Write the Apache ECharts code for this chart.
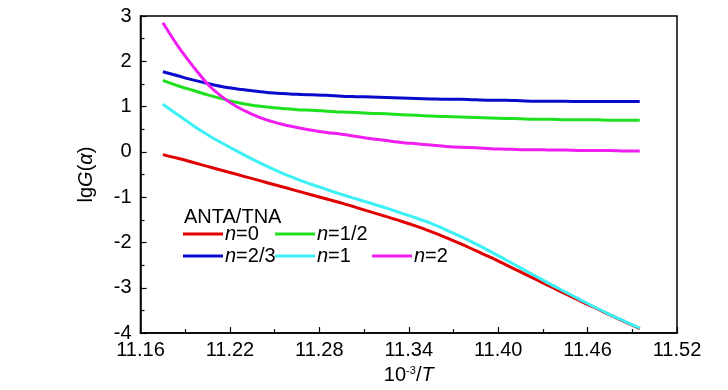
<!DOCTYPE html>
<html>
<head>
<meta charset="utf-8">
<script src="https://cdn.jsdelivr.net/npm/echarts@6/dist/echarts.min.js"></script>
<style>html,body{margin:0;padding:0;background:#fff}#c{width:728px;height:390px}</style>
</head>
<body>
<div id="c"></div>
<script>
const xValues = [11.175, 11.185, 11.195, 11.205, 11.215, 11.225, 11.235, 11.245, 11.255, 11.265, 11.275,
  11.285, 11.295, 11.305, 11.315, 11.325, 11.335, 11.345, 11.355, 11.365, 11.375,
  11.385, 11.395, 11.405, 11.415, 11.425, 11.435, 11.445, 11.455, 11.465, 11.475, 11.485, 11.495];
const n0  = [-0.06, -0.14, -0.23, -0.32, -0.41, -0.50, -0.59, -0.68, -0.77, -0.86, -0.95,
  -1.04, -1.13, -1.23, -1.33, -1.43, -1.53, -1.64, -1.76, -1.89, -2.03,
  -2.18, -2.33, -2.49, -2.65, -2.81, -2.97, -3.13, -3.29, -3.44, -3.60, -3.75, -3.90];
const n12 = [1.58, 1.46, 1.36, 1.26, 1.17, 1.09, 1.03, 0.99, 0.96, 0.93, 0.92,
  0.90, 0.88, 0.87, 0.85, 0.84, 0.82, 0.81, 0.79, 0.78, 0.77,
  0.76, 0.75, 0.74, 0.73, 0.72, 0.72, 0.71, 0.71, 0.71, 0.70, 0.70, 0.70];
const n23 = [1.77, 1.68, 1.59, 1.51, 1.44, 1.39, 1.35, 1.31, 1.29, 1.27, 1.26,
  1.25, 1.23, 1.22, 1.21, 1.20, 1.19, 1.18, 1.17, 1.16, 1.16,
  1.15, 1.14, 1.14, 1.13, 1.12, 1.12, 1.12, 1.11, 1.11, 1.11, 1.11, 1.11];
const n1  = [1.05, 0.82, 0.59, 0.38, 0.19, 0.01, -0.16, -0.32, -0.47, -0.60, -0.72,
  -0.83, -0.94, -1.04, -1.14, -1.24, -1.35, -1.46, -1.58, -1.72, -1.87,
  -2.03, -2.20, -2.38, -2.56, -2.74, -2.92, -3.09, -3.26, -3.43, -3.59, -3.74, -3.89];
const n2  = [2.85, 2.34, 1.90, 1.50, 1.21, 0.99, 0.83, 0.70, 0.61, 0.54, 0.48,
  0.43, 0.39, 0.34, 0.29, 0.25, 0.21, 0.18, 0.15, 0.12, 0.10,
  0.09, 0.07, 0.06, 0.05, 0.05, 0.04, 0.04, 0.03, 0.03, 0.03, 0.02, 0.02];
const seriesNames = ['n=0', 'n=1/2', 'n=2/3', 'n=1', 'n=2'];
const seriesData = [n0, n12, n23, n1, n2];
const colors = ['#e00000', '#1ee01e', '#0a0acc', '#3cf0f5', '#f01ef0'];
const xTicks = [11.16, 11.22, 11.28, 11.34, 11.40, 11.46, 11.52];
const yTicks = [-4, -3, -2, -1, 0, 1, 2, 3];

const FONT = '"Liberation Sans", Arial, sans-serif';
const FS = 20;
const chart = echarts.init(document.getElementById('c'), null, {renderer: 'canvas'});

const legendPos = [
  {left: 183, top: 224},
  {left: 275, top: 224},
  {left: 183, top: 246},
  {left: 275, top: 246},
  {left: 372, top: 246}
];

const option = {
  animation: false,
  backgroundColor: '#fff',
  title: {
    text: 'ANTA/TNA',
    left: 184, top: 207, padding: 0,
    textStyle: {fontFamily: FONT, fontSize: FS, fontWeight: 'normal', color: '#000'}
  },
  grid: {
    left: 140.5, right: 51, top: 16, bottom: 55,
    show: true, borderColor: '#000', borderWidth: 1.5, backgroundColor: 'transparent'
  },
  legend: seriesNames.map((name, i) => ({
    data: [name],
    left: legendPos[i].left, top: legendPos[i].top,
    padding: 0, itemGap: 0,
    icon: 'rect', itemWidth: 40, itemHeight: 3,
    formatter: (nm) => '{i|n}' + nm.slice(1),
    textStyle: {
      fontFamily: FONT, fontSize: FS, color: '#000', lineHeight: 20, padding: [0, 0, 0, -3],
      rich: {i: {fontFamily: FONT, fontSize: FS, fontStyle: 'italic', color: '#000', lineHeight: 20}}
    }
  })),
  xAxis: {
    type: 'value', min: 11.16, max: 11.52, interval: 0.06,
    name: '{n|10}{s|-3}{n|/}{i|T}', nameLocation: 'middle', nameGap: 28,
    nameTextStyle: {
      rich: {
        n: {fontFamily: FONT, fontSize: FS, color: '#000', lineHeight: 20},
        s: {fontFamily: FONT, fontSize: 11, color: '#000', verticalAlign: 'top', lineHeight: 11},
        i: {fontFamily: FONT, fontSize: FS, fontStyle: 'italic', color: '#000', lineHeight: 20}
      }
    },
    axisLine: {onZero: false, lineStyle: {color: '#000', width: 1.5}},
    axisTick: {inside: true, length: 6, lineStyle: {color: '#000', width: 1.2}},
    minorTick: {show: true, splitNumber: 2, length: 4, lineStyle: {color: '#000', width: 1.2}},
    axisLabel: {
      fontFamily: FONT, fontSize: FS, color: '#000', margin: 7,
      formatter: (v) => {
        const t = xTicks.find(x => Math.abs(x - v) < 1e-6);
        return t !== undefined ? t.toFixed(2) : '';
      }
    },
    splitLine: {show: false}
  },
  yAxis: {
    type: 'value', min: -4, max: 3, interval: 1,
    name: '{n|lg}{i|G}{n|(}{i|α}{n|)}', nameLocation: 'middle', nameGap: 44, nameRotate: 90,
    nameTextStyle: {
      rich: {
        n: {fontFamily: FONT, fontSize: FS, color: '#000'},
        i: {fontFamily: FONT, fontSize: FS, fontStyle: 'italic', color: '#000'}
      }
    },
    axisLine: {onZero: false, lineStyle: {color: '#000', width: 1.5}},
    axisTick: {inside: true, length: 6, lineStyle: {color: '#000', width: 1.2}},
    minorTick: {show: true, splitNumber: 2, length: 4, lineStyle: {color: '#000', width: 1.2}},
    axisLabel: {
      fontFamily: FONT, fontSize: FS, color: '#000', margin: 9,
      formatter: (v) => {
        const t = yTicks.find(y => Math.abs(y - v) < 1e-6);
        return t !== undefined ? String(t) : '';
      }
    },
    splitLine: {show: false}
  },
  series: seriesNames.map((name, i) => ({
    name: name,
    type: 'line',
    smooth: 0.3,
    showSymbol: false,
    symbol: 'none',
    color: colors[i],
    lineStyle: {color: colors[i], width: 3},
    data: xValues.map((x, j) => [x, seriesData[i][j]])
  }))
};
chart.setOption(option);
</script>
</body>
</html>
